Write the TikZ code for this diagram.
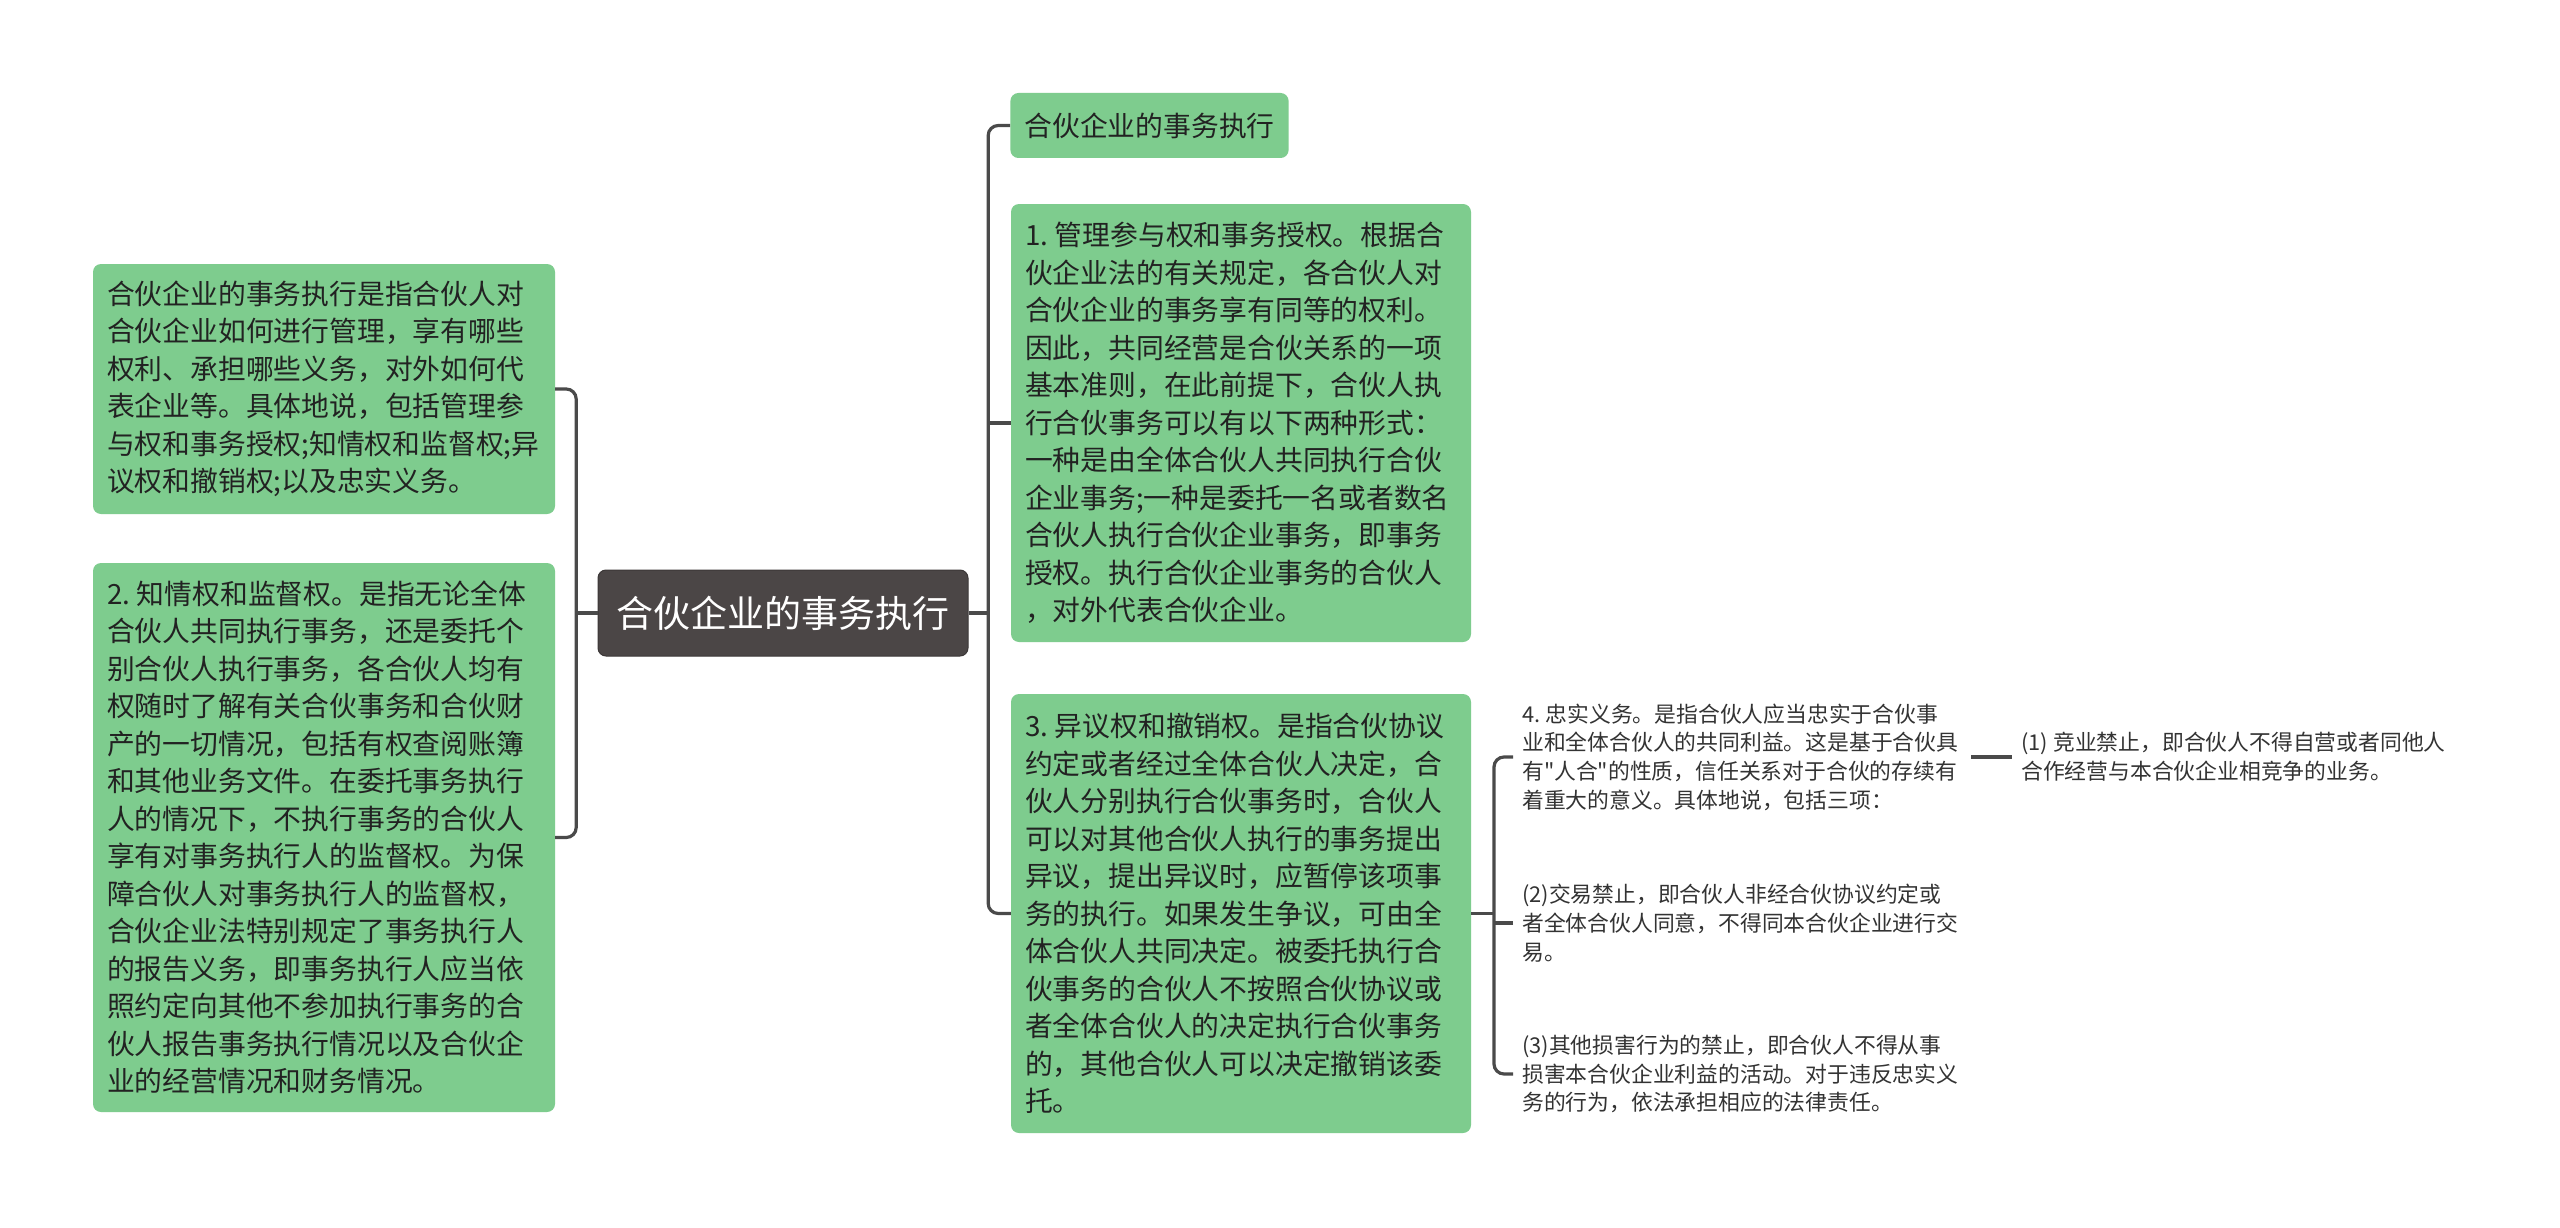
\documentclass[tikz,border=0pt]{standalone}
\usepackage{fontspec}
\newfontfamily\cjk{Noto Sans CJK SC}
\definecolor{boxgreen}{HTML}{7ECC8E}
\definecolor{rootgray}{HTML}{4B4646}
\definecolor{linegray}{HTML}{4A4A4A}
\definecolor{txt}{HTML}{222222}
\definecolor{smalltxt}{HTML}{333333}
\newcommand{\nsp}{\hspace{0.24em}}
\begin{document}
\begin{tikzpicture}[x=1pt,y=-1pt,
  gbox/.style={fill=boxgreen, rounded corners=8pt, inner xsep=14pt, inner ysep=0pt, align=left, text=txt, font=\cjk\fontsize{27.8}{37.5}\selectfont},
  rootbox/.style={fill=rootgray, draw=rootgray!80!black, line width=1pt, rounded corners=8pt, text=white, font=\cjk\fontsize{37}{44}\selectfont},
  smalltext/.style={inner xsep=9pt, inner ysep=0pt, align=left, text=smalltxt, font=\cjk\fontsize{21.8}{28.7}\selectfont, anchor=west},
  conn/.style={draw=linegray, line width=3.2pt, rounded corners=10pt}
]
\useasboundingbox (0,0) rectangle (2560,1228);
\fill[white] (0,0) rectangle (2560,1228);

\node[rootbox, minimum width=370pt, minimum height=86pt] (root) at (783,613) {合伙企业的事务执行};

\node[gbox, minimum width=462pt, minimum height=250pt, text width=434pt] (L1) at (324,389) {合伙企业的事务执行是指合伙人对\\
合伙企业如何进行管理，享有哪些\\
权利、承担哪些义务，对外如何代\\
表企业等。具体地说，包括管理参\\
与权和事务授权;知情权和监督权;异\\
议权和撤销权;以及忠实义务。};

\node[gbox, minimum width=462pt, minimum height=549pt, text width=434pt] (L2) at (324,837.5) {2.\nsp 知情权和监督权。是指无论全体\\
合伙人共同执行事务，还是委托个\\
别合伙人执行事务，各合伙人均有\\
权随时了解有关合伙事务和合伙财\\
产的一切情况，包括有权查阅账簿\\
和其他业务文件。在委托事务执行\\
人的情况下，不执行事务的合伙人\\
享有对事务执行人的监督权。为保\\
障合伙人对事务执行人的监督权，\\
合伙企业法特别规定了事务执行人\\
的报告义务，即事务执行人应当依\\
照约定向其他不参加执行事务的合\\
伙人报告事务执行情况以及合伙企\\
业的经营情况和财务情况。};

\node[gbox, minimum width=277pt, minimum height=65pt] (top) at (1149.5,125.5) {合伙企业的事务执行};

\node[gbox, minimum width=460pt, minimum height=438pt, text width=432pt] (R1) at (1241,423) {1.\nsp 管理参与权和事务授权。根据合\\
伙企业法的有关规定，各合伙人对\\
合伙企业的事务享有同等的权利。\\
因此，共同经营是合伙关系的一项\\
基本准则，在此前提下，合伙人执\\
行合伙事务可以有以下两种形式：\\
一种是由全体合伙人共同执行合伙\\
企业事务;一种是委托一名或者数名\\
合伙人执行合伙企业事务，即事务\\
授权。执行合伙企业事务的合伙人\\
，对外代表合伙企业。};

\node[gbox, minimum width=460pt, minimum height=439pt, text width=432pt] (R3) at (1241,913.5) {3.\nsp 异议权和撤销权。是指合伙协议\\
约定或者经过全体合伙人决定，合\\
伙人分别执行合伙事务时，合伙人\\
可以对其他合伙人执行的事务提出\\
异议，提出异议时，应暂停该项事\\
务的执行。如果发生争议，可由全\\
体合伙人共同决定。被委托执行合\\
伙事务的合伙人不按照合伙协议或\\
者全体合伙人的决定执行合伙事务\\
的，其他合伙人可以决定撤销该委\\
托。};

\node[smalltext, text width=440pt] (I4) at (1513,757) {4.\nsp 忠实义务。是指合伙人应当忠实于合伙事\\
业和全体合伙人的共同利益。这是基于合伙具\\
有"人合"的性质，信任关系对于合伙的存续有\\
着重大的意义。具体地说，包括三项：};

\node[smalltext, text width=432pt] (I1) at (2012,757) {(1)\nsp 竞业禁止，即合伙人不得自营或者同他人\\
合作经营与本合伙企业相竞争的业务。};

\node[smalltext, text width=440pt] (I2) at (1513,923) {(2)交易禁止，即合伙人非经合伙协议约定或\\
者全体合伙人同意，不得同本合伙企业进行交\\
易。};

\node[smalltext, text width=440pt] (I3) at (1513,1074) {(3)其他损害行为的禁止，即合伙人不得从事\\
损害本合伙企业利益的活动。对于违反忠实义\\
务的行为，依法承担相应的法律责任。};

\coordinate (lb) at (576,613);
\coordinate (rb) at (989,613);

\draw[conn] (L1.east) -- ++(21,0) |- (L2.east);
\draw[conn] (root.west) -- (lb);

\draw[conn] (top.west) -- ++(-22,0) |- (R3.west);
\draw[conn] (R1.west) -- ++(-22,0);
\draw[conn] (root.east) -- (rb);

\draw[conn] (R3.east) -- ++(23,0);
\draw[conn] (I4.west) -- ++(-19,0) |- (I3.west);
\draw[conn] (I2.west) -- ++(-19,0);
\draw[conn] (I4.east) -- (I1.west);
\end{tikzpicture}
\end{document}
